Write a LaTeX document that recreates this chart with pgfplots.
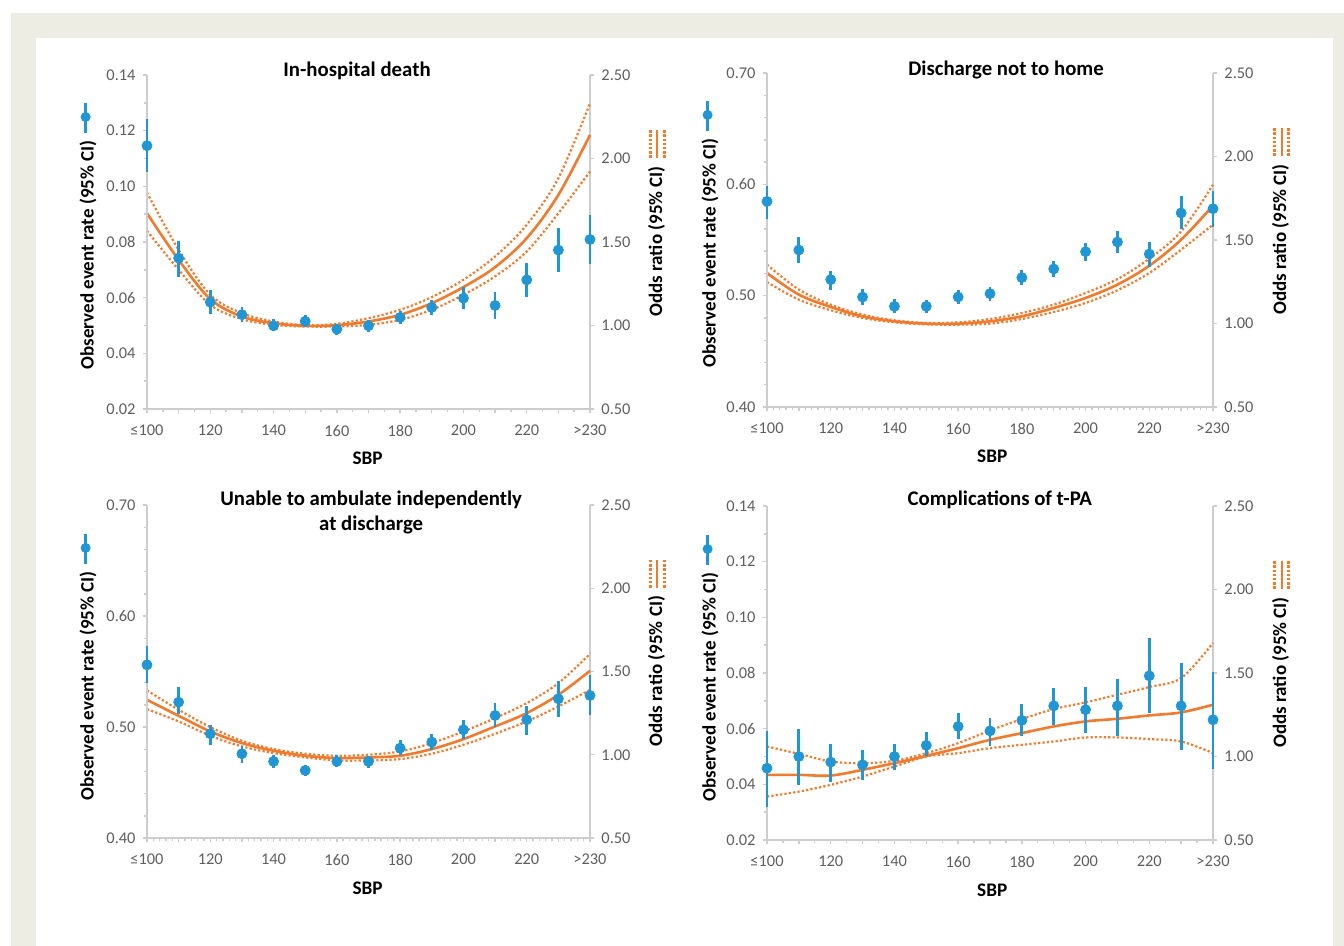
\documentclass[border=0pt]{standalone}
\usepackage{fontspec}
\setmainfont{Carlito}
\usepackage{pgfplots}
\usepackage{pgfplotstable}
\pgfplotsset{compat=1.18}
\definecolor{bluec}{RGB}{32,150,212}
\definecolor{orangec}{RGB}{242,122,45}
\definecolor{axgray}{RGB}{205,205,205}
\definecolor{tickgray}{RGB}{95,95,95}
\definecolor{beige}{RGB}{238,237,227}

% ---------------- data ----------------
% observed event rate: x, rate, lower, upper
\pgfplotstableread{
x y lo hi
0 0.1146 0.1053 0.1242
1 0.0742 0.0676 0.0802
2 0.0584 0.0542 0.0626
3 0.0539 0.0511 0.0566
4 0.0499 0.0479 0.0523
5 0.0515 0.0493 0.0536
6 0.0487 0.0467 0.0506
7 0.0499 0.0478 0.0521
8 0.0529 0.0505 0.0553
9 0.0565 0.0536 0.0593
10 0.0598 0.0559 0.0640
11 0.0572 0.0523 0.0619
12 0.0664 0.0602 0.0724
13 0.0771 0.0691 0.0850
14 0.0809 0.0722 0.0898
}\bA
\pgfplotstableread{
x y lo hi
0 1.672 1.567 1.796
1 1.393 1.334 1.453
2 1.158 1.124 1.184
3 1.054 1.038 1.074
4 1.014 1.004 1.024
5 0.998 0.994 1.002
6 1.002 0.994 1.010
7 1.024 1.004 1.044
8 1.064 1.034 1.094
9 1.134 1.094 1.170
10 1.230 1.184 1.274
11 1.349 1.294 1.413
12 1.523 1.443 1.603
13 1.782 1.672 1.882
14 2.141 1.922 2.331
}\oA
\pgfplotstableread{
x y lo hi
0 0.5847 0.5689 0.5988
1 0.5410 0.5293 0.5524
2 0.5144 0.5054 0.5225
3 0.4988 0.4919 0.5060
4 0.4904 0.4844 0.4970
5 0.4904 0.4844 0.4964
6 0.4988 0.4928 0.5048
7 0.5018 0.4955 0.5078
8 0.5162 0.5099 0.5228
9 0.5240 0.5165 0.5308
10 0.5395 0.5308 0.5473
11 0.5482 0.5383 0.5584
12 0.5374 0.5254 0.5482
13 0.5743 0.5602 0.5892
14 0.5781 0.5614 0.5943
}\bB
\pgfplotstableread{
x y lo hi
0 1.302 1.248 1.352
1 1.173 1.143 1.203
2 1.099 1.079 1.113
3 1.043 1.033 1.053
4 1.013 1.007 1.019
5 0.999 0.995 1.003
6 0.999 0.993 1.007
7 1.013 0.999 1.027
8 1.043 1.027 1.063
9 1.093 1.069 1.113
10 1.153 1.123 1.183
11 1.233 1.199 1.266
12 1.346 1.302 1.388
13 1.502 1.442 1.552
14 1.706 1.592 1.831
}\oB
\pgfplotstableread{
x y lo hi
0 0.5560 0.5395 0.5734
1 0.5224 0.5116 0.5359
2 0.4939 0.4840 0.5020
3 0.4759 0.4675 0.4825
4 0.4690 0.4630 0.4750
5 0.4609 0.4561 0.4660
6 0.4690 0.4639 0.4750
7 0.4690 0.4630 0.4741
8 0.4810 0.4750 0.4879
9 0.4864 0.4795 0.4936
10 0.4975 0.4891 0.5059
11 0.5104 0.4996 0.5215
12 0.5065 0.4930 0.5185
13 0.5254 0.5089 0.5416
14 0.5284 0.5110 0.5470
}\bC
\pgfplotstableread{
x y lo hi
0 1.330 1.274 1.386
1 1.234 1.200 1.270
2 1.140 1.114 1.166
3 1.070 1.050 1.084
4 1.024 1.010 1.034
5 0.994 0.984 1.006
6 0.980 0.966 0.994
7 0.984 0.966 1.000
8 0.994 0.974 1.020
9 1.034 1.006 1.070
10 1.094 1.060 1.140
11 1.170 1.126 1.220
12 1.250 1.200 1.310
13 1.360 1.290 1.430
14 1.504 1.390 1.606
}\oC
\pgfplotstableread{
x y lo hi
0 0.0458 0.0320 0.0590
1 0.0500 0.0398 0.0598
2 0.0480 0.0410 0.0544
3 0.0470 0.0416 0.0524
4 0.0500 0.0452 0.0544
5 0.0540 0.0502 0.0588
6 0.0608 0.0562 0.0656
7 0.0592 0.0536 0.0638
8 0.0630 0.0572 0.0688
9 0.0682 0.0614 0.0746
10 0.0668 0.0586 0.0750
11 0.0682 0.0574 0.0780
12 0.0790 0.0656 0.0926
13 0.0682 0.0524 0.0836
14 0.0632 0.0454 0.0802
}\bD
\pgfplotstableread{
x y lo hi
0 0.890 0.760 1.060
1 0.890 0.790 1.016
2 0.886 0.830 0.970
3 0.920 0.880 0.960
4 0.960 0.940 0.974
5 1.004 1.000 1.020
6 1.050 1.020 1.080
7 1.100 1.050 1.156
8 1.140 1.070 1.224
9 1.180 1.090 1.284
10 1.210 1.114 1.324
11 1.226 1.114 1.370
12 1.246 1.104 1.416
13 1.264 1.090 1.470
14 1.310 1.020 1.680
}\oD

\newcommand{\blueicon}{\tikz[baseline=-4pt]{\draw[bluec,line width=1.5pt] (0,0)--(15pt,0); \fill[bluec] (8pt,0) circle (2.5pt);}}
\newcommand{\orangeicon}{\tikz[baseline=-0.5ex]{\draw[orangec,line width=1pt] (0,0)--(14pt,0); \draw[orangec,line width=1.3pt,dash pattern=on 1.2pt off 0.9pt] (0,3.6pt)--(14pt,3.6pt) (0,-3.6pt)--(14pt,-3.6pt);}}

\pgfplotsset{
  /pgf/number format/assume math mode=true,
  base/.style={scale only axis, xmin=0, xmax=14, clip=false,
    tick align=outside,
    axis line style={draw=axgray, line width=0.7pt, -},
    x axis line style={-}, y axis line style={-},
    tick style={draw=axgray, line width=0.7pt},
    major tick length=2.2pt, minor tick length=1.6pt,
    ticklabel style={font=\fontsize{8.2}{9}\selectfont, text=tickgray},
    xticklabel style={yshift=-2.3pt},
    yticklabel style={/pgf/number format/fixed, /pgf/number format/fixed zerofill, /pgf/number format/precision=2},
    title style={font=\bfseries\fontsize{10.4}{12.5}\selectfont, anchor=center, align=center, yshift=-7.5pt},
    xlabel style={font=\bfseries\fontsize{9.6}{10}\selectfont, anchor=center},
    ylabel style={font=\bfseries\fontsize{9.5}{10}\selectfont, anchor=east, inner sep=0pt},
  },
  leftax/.style={base, axis x line*=bottom, axis y line*=left,
    xtick={0,...,14},
    xticklabels={{≤100},{},{120},{},{140},{},{160},{},{180},{},{200},{},{220},{},{>230}},
    xlabel={SBP},
    ylabel={Observed event rate (95\% CI)\hspace{3pt}\blueicon}},
  rightax/.style={base, hide x axis, axis y line*=right,
    ymin=0.5, ymax=2.5, ytick={0.5,1,1.5,2,2.5}, minor tick num=0,
    ylabel={Odds ratio (95\% CI)\hspace{3.5pt}\orangeicon}},
  fitline/.style={orangec, line width=1.3pt, smooth, tension=0.55, no marks},
  ciline/.style={orangec, line width=1.1pt, smooth, tension=0.55, no marks, dash pattern=on 1.1pt off 1.1pt},
}

\newcommand{\orplots}[1]{%
  \addplot[ciline] table[x=x,y=lo] {#1};
  \addplot[ciline] table[x=x,y=hi] {#1};
  \addplot[fitline] table[x=x,y=y] {#1};
}
\newcommand{\rateplot}[1]{%
  \addplot[bluec, only marks, mark=*, mark size=2.5pt, mark options={fill=bluec, draw=bluec},
    error bars/.cd, y dir=both, y explicit, error mark=none,
    error bar style={line width=1.4pt, bluec}]
    table[x=x, y=y, y error plus expr=\thisrow{hi}-\thisrow{y}, y error minus expr=\thisrow{y}-\thisrow{lo}] {#1};
}

\begin{document}
\begin{tikzpicture}
\path[use as bounding box] (0,0) rectangle (672pt,-473pt);
\fill[white] (0,0) rectangle (672pt,-473pt);
\fill[beige] (5.5pt,-6.5pt) rectangle (672pt,-473pt);
\fill[white] (18pt,-19pt) rectangle (666.5pt,-473pt);

% ---------- Panel 1 ----------
\begin{axis}[rightax, at={(73.5pt,-204.5pt)}, anchor=south west, width=221.5pt, height=167pt,
  ylabel style={at={(rel axis cs:1.1512,0.841)}}]
\orplots{\oA}
\end{axis}
\begin{axis}[leftax, at={(73.5pt,-204.5pt)}, anchor=south west, width=221.5pt, height=167pt,
  ymin=0.02, ymax=0.14, ytick={0.02,0.04,0.06,0.08,0.10,0.12,0.14}, minor tick num=1,
  title={In-hospital death}, title style={at={(rel axis cs:0.474,1.021)}},
  xlabel style={at={(rel axis cs:0.498,-0.147)}},
  ylabel style={at={(rel axis cs:-0.1332,0.922)}}]
\rateplot{\bA}
\end{axis}

% ---------- Panel 2 ----------
\begin{axis}[rightax, at={(383.5pt,-203.5pt)}, anchor=south west, width=223pt, height=167pt,
  ylabel style={at={(rel axis cs:1.1525,0.841)}}]
\orplots{\oB}
\end{axis}
\begin{axis}[leftax, at={(383.5pt,-203.5pt)}, anchor=south west, width=223pt, height=167pt,
  ymin=0.40, ymax=0.70, ytick={0.40,0.50,0.60,0.70}, minor tick num=4,
  title={Discharge not to home}, title style={at={(rel axis cs:0.536,1.018)}},
  xlabel style={at={(rel axis cs:0.505,-0.147)}},
  ylabel style={at={(rel axis cs:-0.1278,0.922)}}]
\rateplot{\bB}
\end{axis}

% ---------- Panel 3 ----------
\begin{axis}[rightax, at={(73.5pt,-419pt)}, anchor=south west, width=221.5pt, height=166.5pt,
  ylabel style={at={(rel axis cs:1.1512,0.841)}}]
\orplots{\oC}
\end{axis}
\begin{axis}[leftax, at={(73.5pt,-419pt)}, anchor=south west, width=221.5pt, height=166.5pt,
  ymin=0.40, ymax=0.70, ytick={0.40,0.50,0.60,0.70}, minor tick num=4,
  title={Unable to ambulate independently\\at discharge}, title style={at={(rel axis cs:0.506,0.986)}},
  xlabel style={at={(rel axis cs:0.498,-0.150)}},
  ylabel style={at={(rel axis cs:-0.1332,0.919)}}]
\rateplot{\bC}
\end{axis}

% ---------- Panel 4 ----------
\begin{axis}[rightax, at={(383.5pt,-420pt)}, anchor=south west, width=223pt, height=167pt,
  ylabel style={at={(rel axis cs:1.1525,0.841)}}]
\orplots{\oD}
\end{axis}
\begin{axis}[leftax, at={(383.5pt,-420pt)}, anchor=south west, width=223pt, height=167pt,
  ymin=0.02, ymax=0.14, ytick={0.02,0.04,0.06,0.08,0.10,0.12,0.14}, minor tick num=1,
  title={Complications of t-PA}, title style={at={(rel axis cs:0.522,1.027)}},
  xlabel style={at={(rel axis cs:0.505,-0.150)}},
  ylabel style={at={(rel axis cs:-0.1278,0.919)}}]
\rateplot{\bD}
\end{axis}
\end{tikzpicture}
\end{document}
